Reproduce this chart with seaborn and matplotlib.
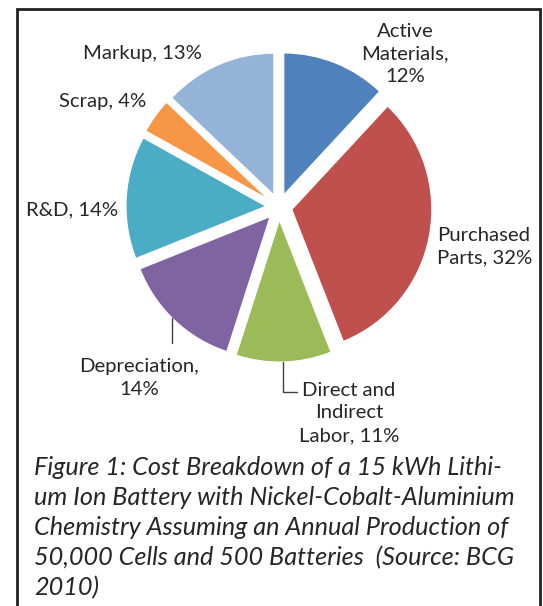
import matplotlib
matplotlib.use("Agg")
import matplotlib.pyplot as plt
import seaborn as sns
from matplotlib.lines import Line2D
from matplotlib.patches import Rectangle

# ---- data ----
categories = ["Active Materials", "Purchased Parts", "Direct and Indirect Labor",
              "Depreciation", "R&D", "Scrap", "Markup"]
values = [12, 32, 11, 14, 14, 4, 13]
label_lines = ["Active\nMaterials,", "Purchased\nParts,", "Direct and\nIndirect\nLabor,",
               "Depreciation,", "R&D,", "Scrap,", "Markup,"]
colors = ["#4F81BD", "#C0504D", "#9BBB59", "#8064A2", "#4BACC6", "#F79646", "#95B3D7"]
caption_lines = [
    "Figure 1: Cost Breakdown of a 15 kWh Lithi-",
    "um Ion Battery with Nickel-Cobalt-Aluminium",
    "Chemistry Assuming an Annual Production of",
    "50,000 Cells and 500 Batteries  (Source: BCG",
    "2010)",
]

sns.set_theme(style="white")
plt.rcParams["font.family"] = ["Lato", "DejaVu Sans"]

W, H = 543, 606
fig = plt.figure(figsize=(W / 100, H / 100), dpi=100)
fig.patch.set_facecolor("white")

def px(x, y):
    return (x / W, 1 - y / H)

# pie: centre ~ (279, 207) px, radius ~140 px
ax = fig.add_axes([97 / W, 214.6 / H, 364 / W, 368.7 / H])
ax.pie(values, colors=colors, startangle=90, counterclock=False,
       explode=[0.093] * len(values), radius=1.0,
       wedgeprops=dict(edgecolor="white", linewidth=0.8))
ax.set_xlim(-1.3, 1.3)
ax.set_ylim(-1.3, 1.3)
ax.set_aspect("auto")
ax.axis("off")

# labels
disp = {}
for cat, lab, v in zip(categories, label_lines, values):
    if cat in ("Active Materials", "Depreciation"):
        disp[cat] = f"{lab}\n{v}%"
    else:
        disp[cat] = f"{lab} {v}%"

label_pos = {
    "Active Materials": (405, 54, "center"),
    "Purchased Parts": (437, 247, "left"),
    "Direct and Indirect Labor": (349, 413, "center"),
    "Depreciation": (139, 378, "center"),
    "R&D": (72.5, 210, "center"),
    "Scrap": (103, 102, "center"),
    "Markup": (142, 53, "center"),
}
for cat in categories:
    x, y, ha = label_pos[cat]
    fig.text(*px(x, y), disp[cat], ha=ha, va="center", multialignment=ha,
             fontsize=14.6, color="#262626", linespacing=1.4)

# leader lines
fig.add_artist(Line2D([172 / W, 172 / W], [1 - 318 / H, 1 - 343 / H],
                      transform=fig.transFigure, color="#404040", lw=1))
fig.add_artist(Line2D([283 / W, 283 / W, 297 / W], [1 - 362 / H, 1 - 392 / H, 1 - 392 / H],
                      transform=fig.transFigure, color="#404040", lw=1))

# caption
for i, line in enumerate(caption_lines):
    fig.text(*px(34, 475 + i * 30.0), line, ha="left", va="baseline",
             fontsize=18.2, style="italic", color="#262626")

# border
fig.add_artist(Rectangle((17 / W, -0.05), (540 - 17) / W, 1 - 9 / H + 0.05,
                         transform=fig.transFigure, fill=False,
                         edgecolor="#222222", lw=2))

fig.savefig("out.png", dpi=100)
